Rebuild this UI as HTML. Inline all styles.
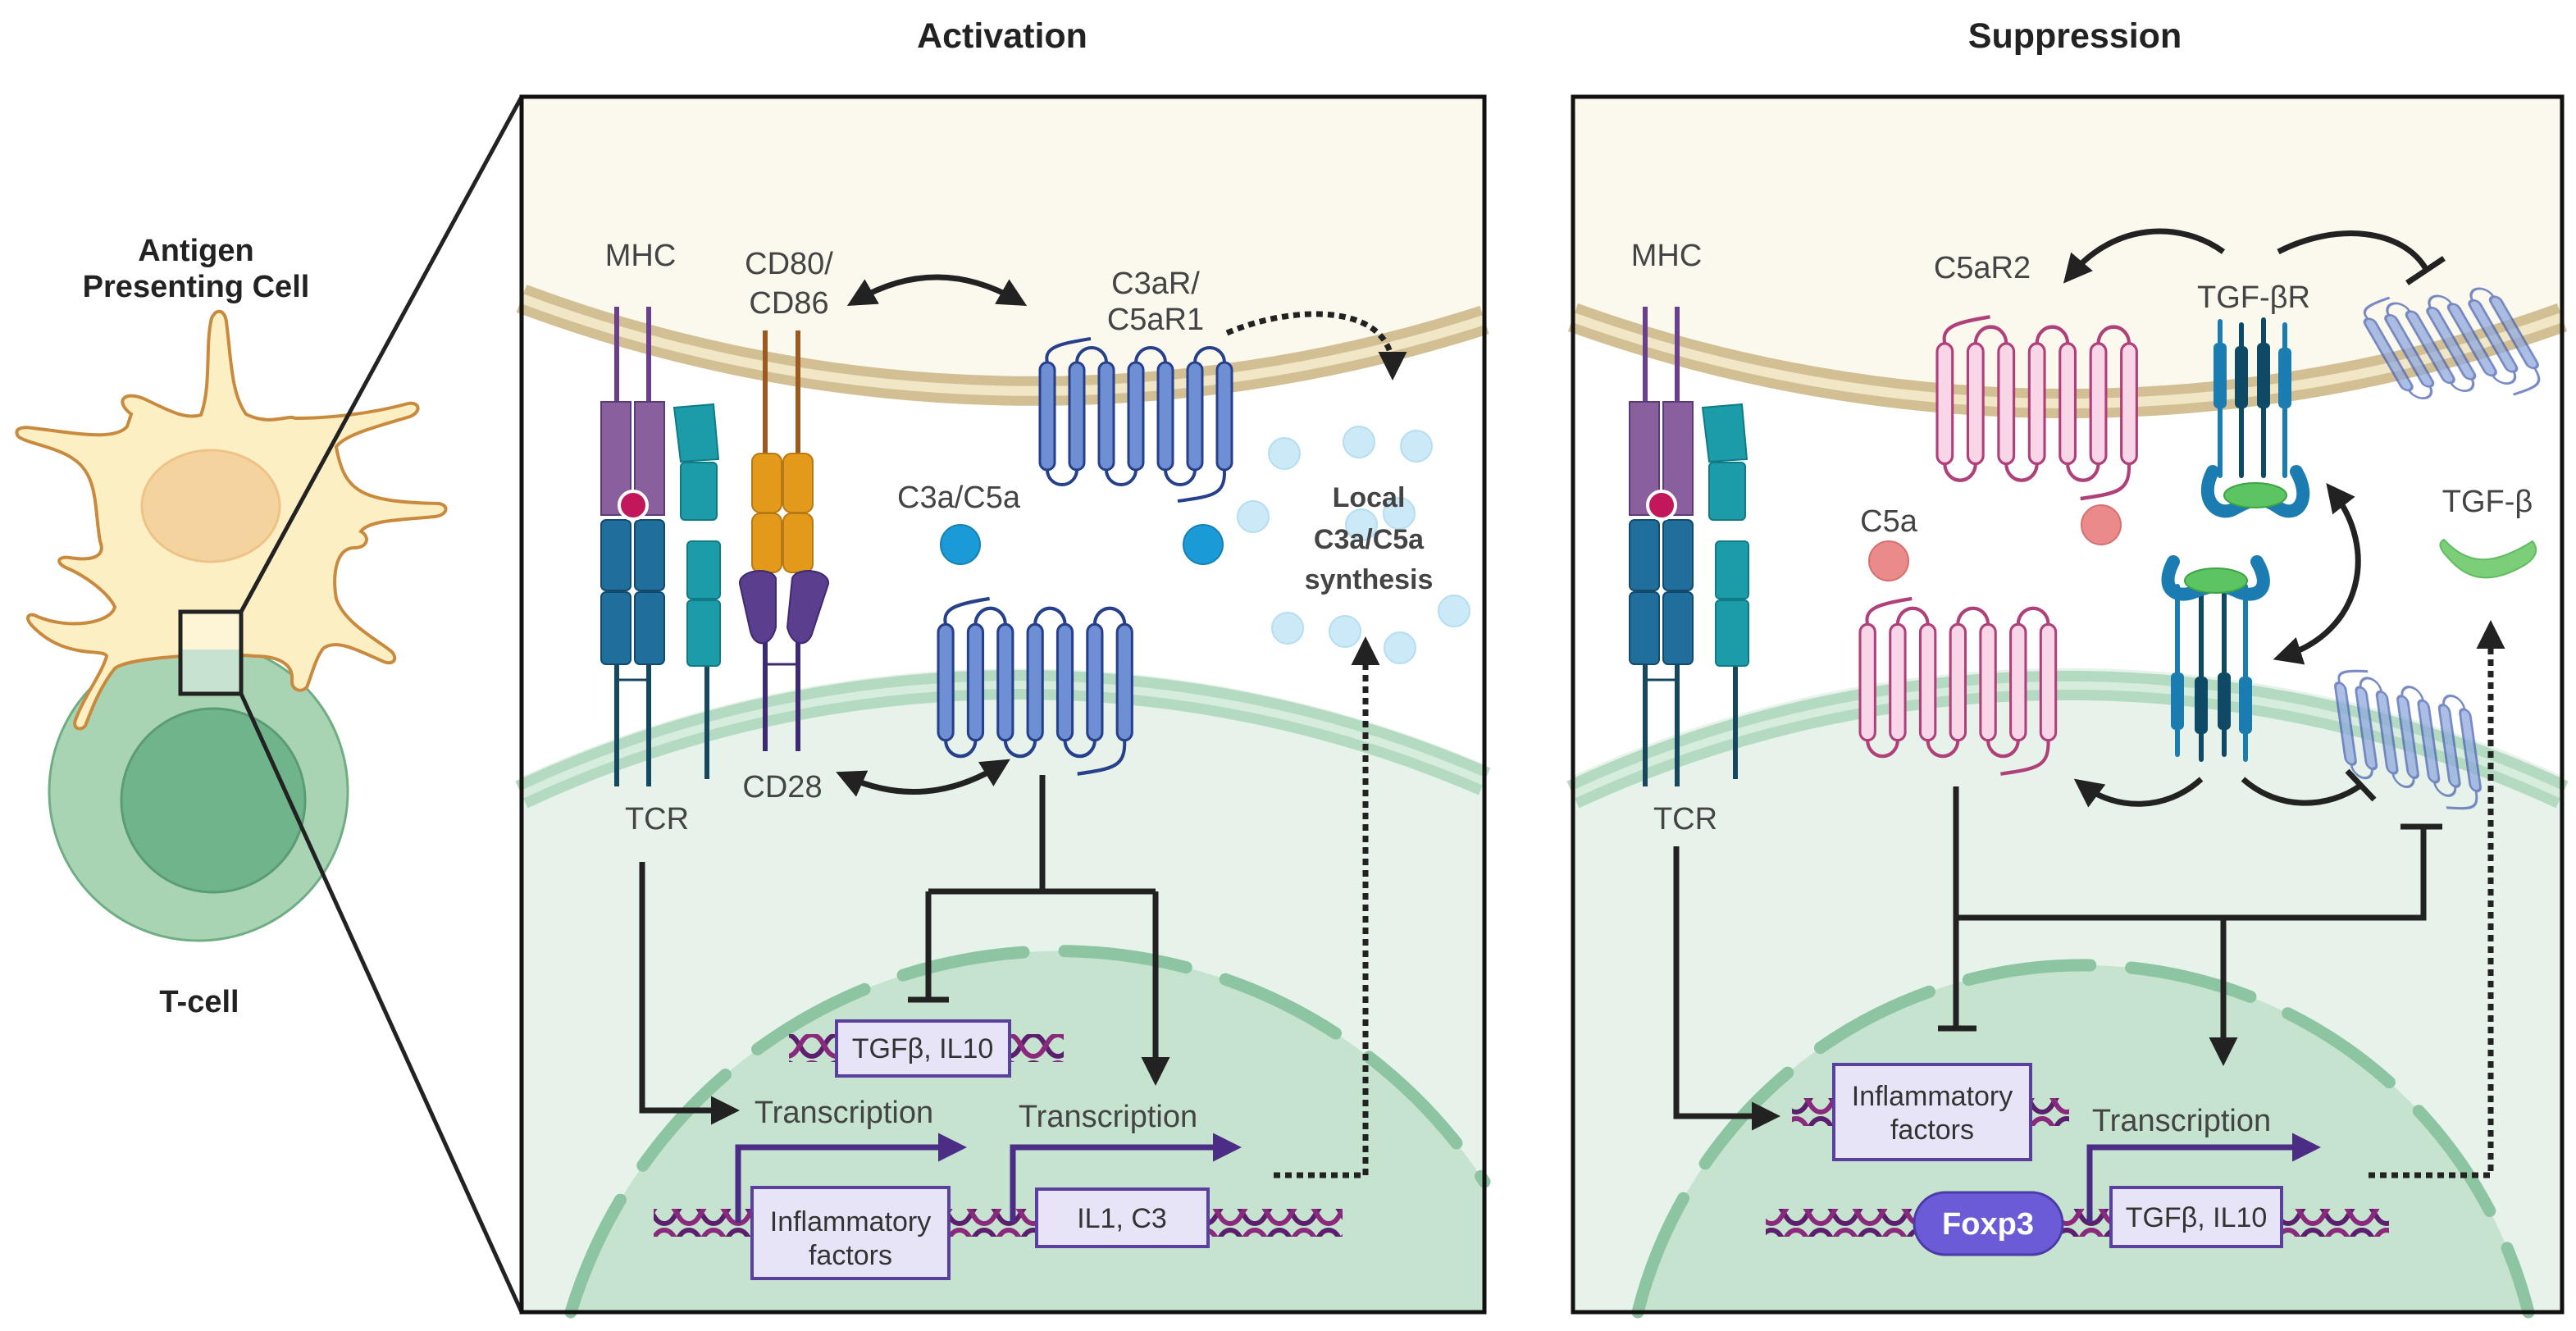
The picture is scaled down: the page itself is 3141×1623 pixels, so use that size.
<!DOCTYPE html>
<html><head><meta charset="utf-8"><style>
html,body{margin:0;padding:0;background:#fff;width:3141px;height:1623px;overflow:hidden}
svg{display:block;position:absolute;left:0;top:0}
text{font-family:"Liberation Sans",sans-serif}
</style></head><body>
<svg width="3141" height="1623" viewBox="0 0 3141 1623" xmlns="http://www.w3.org/2000/svg">
<defs>
<marker id="ah" viewBox="0 0 10 10" refX="6" refY="5" markerWidth="5" markerHeight="5" orient="auto-start-reverse" markerUnits="strokeWidth"><path d="M0 0 L10 5 L0 10 z" fill="#222"/></marker>
<marker id="ahp" viewBox="0 0 10 10" refX="6" refY="5" markerWidth="5" markerHeight="5" orient="auto" markerUnits="strokeWidth"><path d="M0 0 L10 5 L0 10 z" fill="#4b2d86"/></marker>
<pattern id="dna" width="60" height="34" patternUnits="userSpaceOnUse">
<path d="M0 4 C15 4 15 30 30 30 C45 30 45 4 60 4" fill="none" stroke="#5c1f6e" stroke-width="6"/>
<path d="M0 30 C15 30 15 4 30 4 C45 4 45 30 60 30" fill="none" stroke="#8b2a7c" stroke-width="6"/>
</pattern>
<g id="gpcr">
<path d="M9 15 C4 -4 25 -8 62 -14" fill="none" stroke-width="4"/>
<path d="M225 146 C226 176 212 178 168 184" fill="none" stroke-width="4"/>
<path d="M45 15 A18 18 0 0 1 81 15 M117 15 A18 18 0 0 1 153 15 M189 15 A18 18 0 0 1 225 15 M9 146 A18 18 0 0 0 45 146 M81 146 A18 18 0 0 0 117 146 M153 146 A18 18 0 0 0 189 146" fill="none" stroke-width="4"/>
<rect x="0" y="15" width="18" height="131" rx="9"/><rect x="36" y="15" width="18" height="131" rx="9"/><rect x="72" y="15" width="18" height="131" rx="9"/><rect x="108" y="15" width="18" height="131" rx="9"/><rect x="144" y="15" width="18" height="131" rx="9"/><rect x="180" y="15" width="18" height="131" rx="9"/><rect x="216" y="15" width="18" height="131" rx="9"/>
</g>
<g id="tcr">
<line x1="752" y1="374" x2="752" y2="495" stroke="#6a3f8e" stroke-width="6"/>
<line x1="791" y1="374" x2="791" y2="495" stroke="#6a3f8e" stroke-width="6"/>
<path d="M733 490 h36 v128 a10 10 0 0 1 -10 10 h-26 z" fill="#8a5f9e" stroke="#5a3a7a" stroke-width="2"/>
<path d="M774 490 h36 v138 h-26 a10 10 0 0 1 -10 -10 z" fill="#8a5f9e" stroke="#5a3a7a" stroke-width="2"/>
<line x1="752" y1="810" x2="752" y2="959" stroke="#15485f" stroke-width="6"/>
<line x1="791" y1="810" x2="791" y2="959" stroke="#15485f" stroke-width="6"/>
<line x1="752" y1="829" x2="791" y2="829" stroke="#15485f" stroke-width="3"/>
<rect x="733" y="634" width="36" height="86" rx="6" fill="#1f6e9c" stroke="#134a6c" stroke-width="2"/>
<rect x="733" y="722" width="36" height="88" rx="6" fill="#1f6e9c" stroke="#134a6c" stroke-width="2"/>
<rect x="774" y="634" width="36" height="86" rx="6" fill="#1f6e9c" stroke="#134a6c" stroke-width="2"/>
<rect x="774" y="722" width="36" height="88" rx="6" fill="#1f6e9c" stroke="#134a6c" stroke-width="2"/>
<circle cx="772" cy="616" r="17" fill="#c2185b" stroke="#fff" stroke-width="4"/>
<line x1="862" y1="800" x2="862" y2="950" stroke="#15485f" stroke-width="6"/>
<path d="M822 497 L870 493 L876 560 L830 563 z" fill="#1b9ca8" stroke="#107a85" stroke-width="2"/>
<rect x="830" y="564" width="44" height="70" rx="5" fill="#1b9ca8" stroke="#107a85" stroke-width="2"/>
<rect x="838" y="660" width="40" height="70" rx="5" fill="#1b9ca8" stroke="#107a85" stroke-width="2"/>
<rect x="838" y="732" width="40" height="80" rx="5" fill="#1b9ca8" stroke="#107a85" stroke-width="2"/>
</g>
</defs>

<text x="1222" y="58" font-size="43" font-weight="bold" text-anchor="middle" fill="#222">Activation</text>
<text x="2530" y="58" font-size="43" font-weight="bold" text-anchor="middle" fill="#222">Suppression</text>

<text x="239" y="318" font-size="38" font-weight="bold" text-anchor="middle" fill="#222">Antigen</text>
<text x="239" y="362" font-size="38" font-weight="bold" text-anchor="middle" fill="#222">Presenting Cell</text>
<circle cx="242" cy="965" r="182" fill="#a8d4b4" stroke="#6fae83" stroke-width="3"/>
<circle cx="260" cy="976" r="112" fill="#70b48b" stroke="#5b9c73" stroke-width="3"/>
<path d="M160 505 C140 490 150 476 175 486 C205 500 225 512 245 506 C258 470 250 420 258 388 C264 375 274 378 276 392 C282 440 282 480 300 505 C330 520 350 505 360 510 C400 510 450 505 498 492 C512 490 514 502 500 508 C460 520 420 530 410 545 C420 600 440 612 535 614 C548 616 546 628 530 630 C490 634 450 634 440 648 C452 655 448 668 432 668 C410 668 405 700 410 730 C420 760 460 780 478 795 C486 805 478 812 466 806 C430 790 410 780 395 790 C385 800 378 830 374 838 C366 846 355 840 356 830 C358 810 340 800 310 800 C270 796 160 800 140 815 C120 840 110 870 104 885 C98 892 88 888 92 878 C102 850 125 820 130 800 C126 790 80 805 40 764 C28 752 36 746 46 752 C85 768 135 760 140 740 C130 720 100 700 80 692 C68 686 70 678 85 680 C110 684 130 680 122 660 C115 620 120 580 90 560 C70 545 30 540 22 532 C16 522 28 520 40 522 C90 528 140 538 155 520 z" fill="#fcefc4" stroke="#c98a3e" stroke-width="4"/>
<ellipse cx="257" cy="617" rx="84" ry="68" fill="#f5d39e" stroke="#efc287" stroke-width="3"/>
<path d="M226 790 C245 784 270 784 294 790 L294 846 L220 846 L220 790 z" fill="#c7e3cf"/>
<rect x="220" y="746" width="74" height="46" fill="#fdf5d6"/>
<rect x="220" y="746" width="74" height="100" fill="none" stroke="#222" stroke-width="5"/>
<line x1="294" y1="746" x2="636" y2="118" stroke="#222" stroke-width="5"/>
<line x1="294" y1="846" x2="636" y2="1600" stroke="#222" stroke-width="5"/>
<text x="243" y="1234" font-size="38" font-weight="bold" text-anchor="middle" fill="#222">T-cell</text>

<!-- LEFT PANEL -->
<rect x="636" y="118" width="1174" height="1482" fill="#fff"/>
<path d="M636 118 L636 381 A1800 1800 0 0 0 1810 407 L1810 118 Z" fill="#fbf8ee"/>
<path d="M636 364 A1784 1784 0 0 0 1810 390" fill="none" stroke="#d2bf93" stroke-width="36"/>
<path d="M636 364 A1784 1784 0 0 0 1810 390" fill="none" stroke="#f1e6c6" stroke-width="12"/>
<path d="M636 947 A1450 1450 0 0 1 1810 932 L1810 1600 L636 1600 Z" fill="#e7f3ea"/>
<path d="M636 969 A1432 1432 0 0 1 1810 953" fill="none" stroke="#b4dbc1" stroke-width="36"/>
<path d="M636 969 A1432 1432 0 0 1 1810 953" fill="none" stroke="#d6ecdd" stroke-width="10"/>
<path d="M696 1600 A621 621 0 0 1 1810 1441 L1810 1600 Z" fill="#c6e3cf"/>
<path d="M696 1600 A621 621 0 0 1 1810 1441" fill="none" stroke="#8dc4a2" stroke-width="15" stroke-dasharray="150 50" stroke-linecap="round"/>
<use href="#tcr"/>
<line x1="933" y1="403" x2="933" y2="555" stroke="#9a5a22" stroke-width="6"/>
<line x1="973" y1="403" x2="973" y2="555" stroke="#9a5a22" stroke-width="6"/>
<line x1="933" y1="770" x2="933" y2="916" stroke="#3e2a70" stroke-width="6"/>
<line x1="973" y1="770" x2="973" y2="916" stroke="#3e2a70" stroke-width="6"/>
<line x1="933" y1="810" x2="973" y2="810" stroke="#3e2a70" stroke-width="3"/>
<rect x="917" y="553" width="36" height="72" rx="10" fill="#e39a1a" stroke="#b87812" stroke-width="2"/>
<rect x="955" y="553" width="36" height="72" rx="10" fill="#e39a1a" stroke="#b87812" stroke-width="2"/>
<rect x="917" y="626" width="36" height="72" rx="10" fill="#e39a1a" stroke="#b87812" stroke-width="2"/>
<rect x="955" y="626" width="36" height="72" rx="10" fill="#e39a1a" stroke="#b87812" stroke-width="2"/>
<path d="M902 712 C900 695 940 690 946 705 L946 765 C940 790 920 790 915 770 z" fill="#5b3f8e" stroke="#3e2a70" stroke-width="2"/>
<path d="M1010 712 C1012 695 972 690 966 705 L960 765 C966 790 986 790 991 770 z" fill="#5b3f8e" stroke="#3e2a70" stroke-width="2"/>
<g font-size="38" fill="#444" text-anchor="middle">
<text x="781" y="324">MHC</text>
<text x="962" y="334">CD80/</text>
<text x="962" y="382">CD86</text>
<text x="1409" y="358">C3aR/</text>
<text x="1409" y="402">C5aR1</text>
<text x="1169" y="619">C3a/C5a</text>
<text x="954" y="972">CD28</text>
<text x="801" y="1011">TCR</text>
<text x="1029" y="1369">Transcription</text>
<text x="1351" y="1374">Transcription</text>
</g>
<g fill="#cbe9f6" stroke="#b5def0" stroke-width="2">
<circle cx="1566" cy="553" r="19"/><circle cx="1657" cy="539" r="19"/><circle cx="1727" cy="544" r="19"/><circle cx="1528" cy="630" r="19"/><circle cx="1570" cy="766" r="19"/><circle cx="1706" cy="626" r="19"/><circle cx="1773" cy="745" r="19"/><circle cx="1640" cy="770" r="19"/><circle cx="1707" cy="790" r="19"/><circle cx="1660" cy="640" r="19"/>
</g>
<g font-size="34" font-weight="bold" fill="#444" text-anchor="middle">
<text x="1669" y="618">Local</text><text x="1669" y="669">C3a/C5a</text><text x="1669" y="718">synthesis</text>
</g>
<use href="#gpcr" transform="translate(1268,427)" fill="#6f8fd4" stroke="#27408b" stroke-width="3"/>
<use href="#gpcr" transform="translate(1144,745) scale(1.01,1.08)" fill="#6f8fd4" stroke="#27408b" stroke-width="3"/>
<circle cx="1467" cy="664" r="24" fill="#1a9bd7" stroke="#1580b4" stroke-width="2"/>
<circle cx="1171" cy="664" r="24" fill="#1a9bd7" stroke="#1580b4" stroke-width="2"/>
<g fill="none" stroke="#222" stroke-width="7">
<path d="M1045 366 Q1142 310 1240 366" marker-start="url(#ah)" marker-end="url(#ah)"/>
<path d="M1032 947 Q1128 990 1220 933" marker-start="url(#ah)" marker-end="url(#ah)"/>
<path d="M1271 945 V1087 M1132 1087 H1409 M1132 1087 V1219 M1107 1219 H1157"/>
<path d="M1409 1087 V1310" marker-end="url(#ah)"/>
<path d="M783 1051 V1354 H888" marker-end="url(#ah)"/>
</g>
<g fill="none" stroke="#222" stroke-width="7" stroke-dasharray="8 6">
<path d="M1496 406 C1580 370 1698 370 1698 450" marker-end="url(#ah)"/>
<path d="M1553 1433 H1665 V790" marker-end="url(#ah)"/>
</g>
<rect x="797" y="1474" width="840" height="34" fill="url(#dna)"/>
<rect x="962" y="1261" width="335" height="34" fill="url(#dna)"/>
<g fill="none" stroke="#4b2d86" stroke-width="7">
<path d="M900 1491 V1399 H1165" marker-end="url(#ahp)"/>
<path d="M1235 1491 V1399 H1500" marker-end="url(#ahp)"/>
</g>
<g fill="#e8e4f7" stroke="#5b3f9e" stroke-width="4">
<rect x="1020" y="1245" width="211" height="67"/>
<rect x="917" y="1448" width="240" height="111"/>
<rect x="1264" y="1450" width="209" height="70"/>
</g>
<g font-size="34" fill="#333" text-anchor="middle">
<text x="1125" y="1290">TGFβ, IL10</text>
<text x="1037" y="1501">Inflammatory</text>
<text x="1037" y="1542">factors</text>
<text x="1368" y="1497">IL1, C3</text>
</g>
<rect x="636" y="118" width="1174" height="1482" fill="none" stroke="#111" stroke-width="5"/>

<!-- RIGHT PANEL -->
<rect x="1918" y="118" width="1206" height="1482" fill="#fff"/>
<path d="M1918 118 L1918 404 A1800 1800 0 0 0 3124 404 L3124 118 Z" fill="#fbf8ee"/>
<path d="M1918 387 A1784 1784 0 0 0 3124 387" fill="none" stroke="#d2bf93" stroke-width="36"/>
<path d="M1918 387 A1784 1784 0 0 0 3124 387" fill="none" stroke="#f1e6c6" stroke-width="12"/>
<path d="M1918 946 A1450 1450 0 0 1 3124 946 L3124 1600 L1918 1600 Z" fill="#e7f3ea"/>
<path d="M1918 969 A1432 1432 0 0 1 3124 969" fill="none" stroke="#b4dbc1" stroke-width="36"/>
<path d="M1918 969 A1432 1432 0 0 1 3124 969" fill="none" stroke="#d6ecdd" stroke-width="10"/>
<path d="M1997 1600 A560 560 0 0 1 3083 1600 Z" fill="#c6e3cf"/>
<path d="M1997 1600 A560 560 0 0 1 3083 1600" fill="none" stroke="#8dc4a2" stroke-width="15" stroke-dasharray="150 50" stroke-linecap="round"/>
<use href="#tcr" transform="translate(1254,0)"/>
<g font-size="38" fill="#444" text-anchor="middle">
<text x="2032" y="324">MHC</text>
<text x="2055" y="1011">TCR</text>
<text x="2417" y="339">C5aR2</text>
<text x="2303" y="648">C5a</text>
<text x="2748" y="375">TGF-βR</text>
<text x="3033" y="624">TGF-β</text>
<text x="2660" y="1379">Transcription</text>
</g>
<use href="#gpcr" transform="translate(2362,402) scale(1.04,1.12)" fill="#f8d6e8" stroke="#b0407a" stroke-width="3"/>
<use href="#gpcr" transform="translate(2268,745) scale(1.02,1.08)" fill="#f8d6e8" stroke="#b0407a" stroke-width="3"/>
<circle cx="2562" cy="640" r="24" fill="#ea8a8a" stroke="#d67070" stroke-width="2"/>
<circle cx="2303" cy="684" r="24" fill="#ea8a8a" stroke="#d67070" stroke-width="2"/>
<g opacity="0.75">
<use href="#gpcr" transform="translate(2875,380) rotate(-10) skewX(20) scale(0.72,0.72)" fill="#8fa8dd" stroke="#4a63b0" stroke-width="4"/>
<use href="#gpcr" transform="translate(2845,820) rotate(12) skewX(20) scale(0.72,0.72)" fill="#8fa8dd" stroke="#4a63b0" stroke-width="4"/>
</g>
<g stroke-linecap="round">
<line x1="2707" y1="392" x2="2707" y2="580" stroke="#1a7cb0" stroke-width="6"/>
<line x1="2733" y1="396" x2="2733" y2="580" stroke="#0e4a66" stroke-width="6"/>
<line x1="2760" y1="390" x2="2760" y2="580" stroke="#0e4a66" stroke-width="6"/>
<line x1="2786" y1="396" x2="2786" y2="580" stroke="#1a7cb0" stroke-width="6"/>
<rect x="2699" y="418" width="16" height="80" rx="6" fill="#1a7cb0"/>
<rect x="2725" y="422" width="16" height="76" rx="6" fill="#0e4a66"/>
<rect x="2752" y="418" width="16" height="80" rx="6" fill="#0e4a66"/>
<rect x="2778" y="424" width="16" height="74" rx="6" fill="#1a7cb0"/>
<path d="M2698 575 C2680 610 2705 632 2725 620 C2750 606 2760 606 2780 620 C2800 632 2820 610 2800 575" fill="none" stroke="#1a7cb0" stroke-width="16"/>
<ellipse cx="2750" cy="604" rx="38" ry="15" fill="#5cc460" stroke="#3fa346" stroke-width="2"/>
<line x1="2655" y1="715" x2="2655" y2="920" stroke="#1a7cb0" stroke-width="6"/>
<line x1="2684" y1="715" x2="2684" y2="926" stroke="#0e4a66" stroke-width="6"/>
<line x1="2712" y1="715" x2="2712" y2="920" stroke="#0e4a66" stroke-width="6"/>
<line x1="2738" y1="715" x2="2738" y2="926" stroke="#1a7cb0" stroke-width="6"/>
<rect x="2647" y="820" width="16" height="70" rx="6" fill="#1a7cb0"/>
<rect x="2676" y="825" width="16" height="70" rx="6" fill="#0e4a66"/>
<rect x="2704" y="820" width="16" height="70" rx="6" fill="#0e4a66"/>
<rect x="2730" y="825" width="16" height="70" rx="6" fill="#1a7cb0"/>
<path d="M2650 685 C2632 720 2655 730 2675 722 C2700 712 2710 712 2730 722 C2750 730 2772 720 2752 685" fill="none" stroke="#1a7cb0" stroke-width="16"/>
<ellipse cx="2702" cy="708" rx="38" ry="15" fill="#5cc460" stroke="#3fa346" stroke-width="2"/>
</g>
<path d="M2980 658 C3010 690 3040 690 3088 660 C3096 670 3092 680 3080 688 C3040 712 3010 710 2985 680 C2975 670 2972 662 2980 658 z" fill="#7ccf78" stroke="#62bb60" stroke-width="2"/>
<g fill="none" stroke="#222" stroke-width="7">
<path d="M2711 307 C2660 270 2580 270 2525 335" marker-end="url(#ah)"/>
<path d="M2778 307 C2850 270 2930 280 2958 328 M2935 345 L2980 315"/>
<path d="M2845 600 C2900 670 2880 770 2785 800" marker-start="url(#ah)" marker-end="url(#ah)"/>
<path d="M2684 950 C2640 990 2580 988 2540 958" marker-end="url(#ah)"/>
<path d="M2735 950 C2780 990 2840 985 2878 958 M2862 940 L2895 975"/>
<path d="M2385 959 V1254 M2363 1254 H2410 M2385 1119 H2955 V1008 M2927 1008 H2978"/>
<path d="M2711 1119 V1286" marker-end="url(#ah)"/>
<path d="M2044 1032 V1361 H2157" marker-end="url(#ah)"/>
</g>
<path d="M2888 1433 H3037 V770" fill="none" stroke="#222" stroke-width="7" stroke-dasharray="8 6" marker-end="url(#ah)"/>
<rect x="2185" y="1339" width="338" height="34" fill="url(#dna)"/>
<rect x="2153" y="1474" width="760" height="34" fill="url(#dna)"/>
<path d="M2548 1491 V1399 H2816" fill="none" stroke="#4b2d86" stroke-width="7" marker-end="url(#ahp)"/>
<g fill="#e8e4f7" stroke="#5b3f9e" stroke-width="4">
<rect x="2236" y="1298" width="240" height="116"/>
<rect x="2574" y="1448" width="208" height="72"/>
</g>
<rect x="2334" y="1454" width="181" height="76" rx="38" fill="#6b5bd6" stroke="#4b3aa8" stroke-width="3"/>
<g font-size="34" fill="#333" text-anchor="middle">
<text x="2356" y="1348">Inflammatory</text>
<text x="2356" y="1389">factors</text>
<text x="2678" y="1496">TGFβ, IL10</text>
</g>
<text x="2424" y="1505" font-size="38" font-weight="bold" fill="#fff" text-anchor="middle">Foxp3</text>
<rect x="1918" y="118" width="1206" height="1482" fill="none" stroke="#111" stroke-width="5"/>
</svg>
</body></html>
